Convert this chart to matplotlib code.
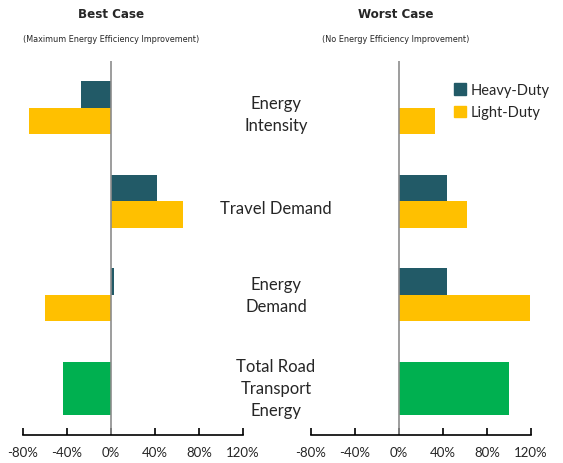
import matplotlib.pyplot as plt
import numpy as np

categories = ["Energy\nIntensity", "Travel Demand", "Energy\nDemand", "Total Road\nTransport\nEnergy"]
best_heavy = [-27, 42, 3, None]
best_light = [-75, 65, -60, None]
best_total = [None, None, None, -44]
worst_heavy = [0, 44, 44, None]
worst_light = [33, 62, 119, None]
worst_total = [None, None, None, 100]
ticks = [-80, -40, 0, 40, 80, 120]
tick_labels = ["-80%", "-40%", "0%", "40%", "80%", "120%"]

heavy_col = "#225A67"
light_col = "#FFC000"
total_col = "#00B050"
text_col = "#262626"

plt.rcParams['font.family'] = ['Lato', 'DejaVu Sans']

fig = plt.figure(figsize=(5.63, 4.64), dpi=100)
ax1 = fig.add_axes([0.0409, 0.0603, 0.3908, 0.806])
ax2 = fig.add_axes([0.5524, 0.0603, 0.3908, 0.806])
ax1.set_zorder(2)

h = 0.283
y = np.arange(len(categories))


def draw(ax, heavy, light, total):
    for i in range(len(categories)):
        if heavy[i] is not None:
            ax.barh(y[i] - h / 2, heavy[i], height=h, color=heavy_col)
        if light[i] is not None:
            ax.barh(y[i] + h / 2, light[i], height=h, color=light_col)
        if total[i] is not None:
            ax.barh(y[i], total[i], height=2 * h, color=total_col)
    ax.axvline(0, color="#8C8C8C", lw=1.2)
    ax.set_xlim(-80, 120)
    ax.set_ylim(len(categories) - 0.5, -0.5)
    for s in ["top", "left", "right"]:
        ax.spines[s].set_visible(False)
    ax.spines["bottom"].set_linewidth(1.2)
    ax.set_yticks([])
    ax.set_xticks(ticks)
    ax.set_xticklabels(tick_labels, fontsize=9.5, color=text_col)
    ax.tick_params(axis="x", direction="in", length=5, width=1.2, pad=8)


draw(ax1, best_heavy, best_light, best_total)
draw(ax2, worst_heavy, worst_light, worst_total)

# category names between the panels
offsets = [0.07, 0.07, 0.0, 0.0]
for i, name in enumerate(categories):
    ax1.text(150, y[i] + offsets[i], name, ha="center", va="center",
             fontsize=12, linespacing=1.45, color=text_col, clip_on=False)

cond = dict(family="DejaVu Sans", stretch="condensed")
fig.text(111 / 563, 1 - 15 / 464, "Best Case", ha="center", va="center",
         fontsize=9.5, fontweight="bold", color=text_col, **cond)
fig.text(111 / 563, 1 - 40 / 464, "(Maximum Energy Efficiency Improvement)",
         ha="center", va="center", fontsize=6.5, color=text_col, **cond)
fig.text(396 / 563, 1 - 15 / 464, "Worst Case", ha="center", va="center",
         fontsize=9.5, fontweight="bold", color=text_col, **cond)
fig.text(396 / 563, 1 - 40 / 464, "(No Energy Efficiency Improvement)",
         ha="center", va="center", fontsize=6.5, color=text_col, **cond)

handles = [plt.Rectangle((0, 0), 1, 1, color=heavy_col),
           plt.Rectangle((0, 0), 1, 1, color=light_col)]
fig.legend(handles, ["Heavy-Duty", "Light-Duty"], loc="upper left",
           bbox_to_anchor=(441 / 563, 1 - 71 / 464), frameon=False,
           fontsize=10.5, handlelength=0.8, handleheight=0.8,
           handletextpad=0.3, labelspacing=0.55, labelcolor=text_col)

fig.savefig("out.png", dpi=100)
